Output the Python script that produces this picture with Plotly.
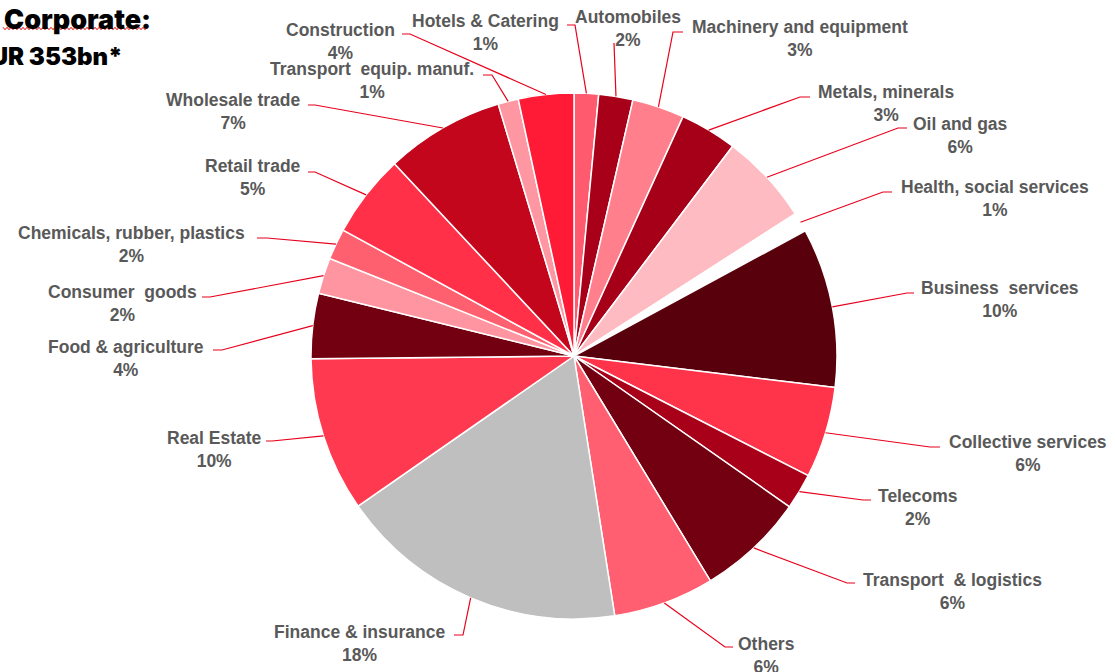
import math
import plotly.graph_objects as go

# ---------------- data ----------------
sectors = [
    "Hotels & Catering", "Automobiles", "Machinery and equipment", "Metals, minerals",
    "Oil and gas", "Health, social services", "Business  services", "Collective services",
    "Telecoms", "Transport  & logistics", "Others", "Finance & insurance", "Real Estate",
    "Food & agriculture", "Consumer  goods", "Chemicals, rubber, plastics", "Retail trade",
    "Wholesale trade", "Transport  equip. manuf.", "Construction",
]
shares = [1.5, 2.1, 3.2, 3.5, 5.6, 1.2, 9.8, 5.6, 2.2, 6.6, 6.2, 17.8, 9.5,
          4.0, 2.2, 1.9, 5.1, 7.3, 1.25, 3.4]
share_labels = ["1%", "2%", "3%", "3%", "6%", "1%", "10%", "6%", "2%", "6%", "6%", "18%",
                "10%", "4%", "2%", "2%", "5%", "7%", "1%", "4%"]
colors = ["#FF5A6E", "#A80019", "#FF7F8C", "#A50018", "#FFBBC2", "#FFFFFF", "#58000C",
          "#FF334A", "#A80019", "#730010", "#FF5F70", "#BFBFBF", "#FF3A50", "#730010",
          "#FF95A0", "#FF6070", "#FF3048", "#C3061C", "#FF97A2", "#FF1A35"]

# ---------------- layout helpers (pixels) ----------------
W, H = 1115, 672
CX, CY, R = 574, 356, 263

def px(x):
    return x / W

def py(y):
    return 1 - y / H

# label layout: (text centre x, first-line y, elbow x, elbow y, end x)
label_pos = [
    (485, 21, 575, 25, 567),
    (628, 18, 614, 43, 614),
    (800, 27, 673, 32, 683),
    (886, 92, 800, 97, 810),
    (960, 125, 898, 128, 907),
    (995, 187, 883, 192, 892),
    (1000, 288, 907, 293, 914),
    (1028, 442, 930, 447, 940),
    (918, 496, 863, 500, 871),
    (952, 580, 847, 583, 855),
    (766, 644, 725, 647, 733),
    (359, 632, 463, 635, 454),
    (214, 438, 272, 441, 266),
    (126, 347, 222, 350, 213),
    (122, 293, 210, 297, 202),
    (131, 234, 267, 238, 257),
    (253, 166, 315, 172, 308),
    (233, 101, 315, 105, 308),
    (372, 69, 492, 75, 483),
    (340, 30, 410, 34, 402),
]

fig = go.Figure()
fig.add_trace(go.Pie(
    labels=sectors,
    values=shares,
    sort=False,
    direction="clockwise",
    rotation=0,
    marker=dict(colors=colors, line=dict(color="#FFFFFF", width=1.5)),
    textinfo="none",
    hoverinfo="skip",
    showlegend=False,
    domain=dict(x=[px(CX - R), px(CX + R)], y=[py(CY + R), py(CY - R)]),
))

shapes = []
annotations = []
total = sum(shares)
cum = 0.0
label_font = dict(family="Liberation Sans, Arial, sans-serif", size=17.5, color="#595959",
                  weight="bold")
for name, val, pl, (tx, ty, ex, ey, endx) in zip(sectors, shares, share_labels, label_pos):
    mid = (cum + val / 2) / total * 2 * math.pi
    cum += val
    sx = CX + R * math.sin(mid)
    sy = CY - R * math.cos(mid)
    shapes.append(dict(type="path", xref="paper", yref="paper",
                       path=f"M {px(sx)},{py(sy)} L {px(ex)},{py(ey)} L {px(endx)},{py(ey)}",
                       line=dict(color="#E8001C", width=1.2)))
    annotations.append(dict(x=px(tx), y=py(ty + 11), xref="paper", yref="paper",
                            text=f"{name}<br>{pl}", showarrow=False, align="center",
                            xanchor="center", yanchor="middle", font=label_font))

# title text
annotations.append(dict(x=px(2), y=py(19), xref="paper", yref="paper", text="Corporate:",
                        showarrow=False, xanchor="left", yanchor="middle",
                        font=dict(family="Inter, Lato, sans-serif", size=27,
                                  color="#000000", weight=900)))
annotations.append(dict(x=px(125), y=py(56), xref="paper", yref="paper", text="EUR 353bn*",
                        showarrow=False, xanchor="right", yanchor="middle",
                        font=dict(family="Inter, Lato, sans-serif", size=24,
                                  color="#000000", weight=900)))

# spell-check style wavy underline
pts = []
x = 3
up = True
while x <= 148:
    pts.append(f"{px(x)},{py(28.5 - (1.2 if up else -1.2))}")
    up = not up
    x += 2
shapes.append(dict(type="path", xref="paper", yref="paper",
                   path="M " + " L ".join(pts), line=dict(color="#E00000", width=1)))

fig.update_layout(
    width=W, height=H,
    margin=dict(l=0, r=0, t=0, b=0),
    paper_bgcolor="#FFFFFF",
    plot_bgcolor="#FFFFFF",
    shapes=shapes,
    annotations=annotations,
)

fig.write_html(
    "out.html",
    config={"displayModeBar": False},
    post_script="document.body.style.margin='0';document.body.style.overflow='hidden';",
)
